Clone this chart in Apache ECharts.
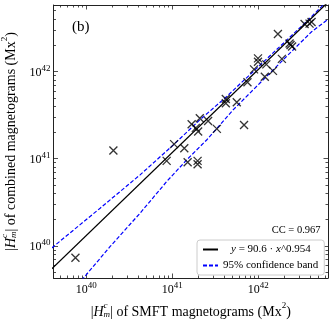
<!DOCTYPE html>
<html>
<head>
<meta charset="utf-8">
<script src="https://cdn.jsdelivr.net/npm/echarts@6/dist/echarts.min.js"></script>
<style>
  html, body { margin: 0; padding: 0; background: #fff; }
  #chart { width: 333px; height: 325px; }
</style>
</head>
<body>
<div id="chart"></div>
<script>
// |H_m^c| (Mx^2): SMFT (x) against combined (y)
var smft = [7.5e39, 2.07e40, 8.61e40, 1.05e41, 1.38e41, 1.51e41, 1.97e41, 1.97e41, 1.68e41,
  2.09e41, 2.0e41, 1.88e41, 2.61e41, 3.3e41, 4.19e41, 4.19e41, 5.62e41, 6.83e41, 7.48e41,
  8.92e41, 9.92e41, 9.92e41, 1.19e42, 1.24e42, 1.48e42, 1.69e42, 1.88e42, 2.31e42, 2.47e42,
  2.37e42, 3.45e42, 3.94e42, 4.16e42];
var combined = [7.3e39, 1.24e41, 9.44e40, 1.47e41, 1.32e41, 9.12e40, 8.65e40, 9.44e40, 2.49e41,
  2.91e41, 2.05e41, 2.26e41, 2.71e41, 2.2e41, 4.85e41, 4.33e41, 4.45e41, 2.44e41, 7.54e41,
  1.06e42, 1.42e42, 1.3e42, 8.74e41, 1.21e42, 1.02e42, 2.7e42, 1.4e42, 2.1e42, 1.94e42,
  2.02e42, 3.52e42, 3.56e42, 3.71e42];

// fitted power law (y = 90.6 x^0.954), end points
var fitX = [3.98e39, 6.46e42];
var fitY = [5.43e39, 6.27e42];

// 95% confidence band
var upperX = [3.98e39, 1.45e40, 4.23e40, 1.03e41, 2.09e41, 4.27e41, 8.69e41, 1.77e42, 3.61e42, 6.46e42];
var upperY = [9.44e39, 2.70e40, 6.52e40, 1.44e41, 2.79e41, 5.15e41, 9.98e41, 1.93e42, 3.73e42, 6.61e42];
var lowerX = [7.94e39, 9.31e39, 1.90e40, 4.23e40, 8.61e40, 1.47e41, 2.51e41, 5.09e41, 1.04e42, 2.11e42, 4.16e42, 6.46e42];
var lowerY = [3.55e39, 4.27e39, 9.82e39, 2.37e40, 5.46e40, 9.68e40, 1.64e41, 3.63e41, 7.35e41, 1.48e42, 2.87e42, 3.98e42];

var majorExp = [40, 41, 42];
var fitName = 'y = 90.6 · x^0.954';
var bandName = '95% confidence band';
var ccText = 'CC = 0.967';
var panelText = '(b)';

var FONT = 'Liberation Serif';
var X_MIN = 39.62, X_MAX = 42.81;
var Y_MIN = 39.63, Y_MAX = 42.765;

function lg(v) { return Math.log10(v); }
function pairs(xs, ys) {
  return xs.map(function (x, i) { return [lg(x), lg(ys[i])]; });
}

// minor tick positions 2..9 x 10^n (log space)
var minorExp = [];
for (var n = 39; n <= 42; n++) {
  for (var k = 2; k <= 9; k++) {
    var v = n + Math.log10(k);
    if (v > X_MIN - 0.05 && v < X_MAX + 0.05) minorExp.push(v);
  }
}

var labelRich = {
  b: { fontFamily: FONT, fontSize: 12, lineHeight: 15, color: '#000', verticalAlign: 'bottom' },
  s: { fontFamily: FONT, fontSize: 9, lineHeight: 9, color: '#000', verticalAlign: 'top' }
};
function expLabel(v) { return '{b|10}{s|' + Math.round(v) + '}'; }

// c sits over m: negative right padding cancels its advance
var nameRich = {
  t: { fontFamily: FONT, fontSize: 14, lineHeight: 18, color: '#000', verticalAlign: 'bottom' },
  i: { fontFamily: FONT, fontSize: 14, lineHeight: 18, color: '#000', fontStyle: 'italic', verticalAlign: 'bottom' },
  c: { fontFamily: FONT, fontSize: 9, lineHeight: 9, color: '#000', fontStyle: 'italic', verticalAlign: 'top', padding: [0, -4, 0, 0] },
  m: { fontFamily: FONT, fontSize: 9, lineHeight: 9, color: '#000', fontStyle: 'italic', verticalAlign: 'bottom' },
  p: { fontFamily: FONT, fontSize: 9, lineHeight: 9, color: '#000', verticalAlign: 'top' }
};
function axisName(mid) {
  return '{t||}{i|H}{c|c}{m|m}{t|| of ' + mid + ' (Mx}{p|2}{t|)}';
}

function makeAxis(dim, pos, ticks, len, main) {
  var ax = {
    type: 'value',
    position: pos,
    min: dim === 'x' ? X_MIN : Y_MIN,
    max: dim === 'x' ? X_MAX : Y_MAX,
    axisLine: { show: main, onZero: false, lineStyle: { color: '#222', width: 1 } },
    axisTick: { show: true, inside: true, length: len, customValues: ticks, lineStyle: { color: '#222', width: 0.8 } },
    axisLabel: { show: false },
    splitLine: { show: false }
  };
  return ax;
}

var xBottom = makeAxis('x', 'bottom', majorExp, 4.5, true);
xBottom.axisLabel = { show: true, customValues: majorExp, formatter: expLabel, margin: 3, rich: labelRich };
xBottom.name = axisName('SMFT magnetograms');
xBottom.nameLocation = 'middle';
xBottom.nameGap = 15;
xBottom.nameTextStyle = { fontFamily: FONT, fontSize: 14, lineHeight: 18, color: '#000', rich: nameRich, verticalAlign: 'top' };

var yLeft = makeAxis('y', 'left', majorExp, 4.5, true);
yLeft.axisLabel = { show: true, customValues: majorExp, formatter: expLabel, margin: 3, rich: labelRich };
yLeft.name = axisName('combined magnetograms');
yLeft.nameLocation = 'middle';
yLeft.nameGap = 27;
yLeft.nameTextStyle = { fontFamily: FONT, fontSize: 14, lineHeight: 18, color: '#000', rich: nameRich };

var chart = echarts.init(document.getElementById('chart'));
var option = {
  animation: false,
  backgroundColor: '#fff',
  grid: { left: 53.5, top: 5, width: 274.5, height: 273, outerBoundsMode: 'none', containLabel: false },
  xAxis: [
    xBottom,
    makeAxis('x', 'bottom', minorExp, 2.5, false),
    makeAxis('x', 'top', majorExp, 4.5, true),
    makeAxis('x', 'top', minorExp, 2.5, false)
  ],
  yAxis: [
    yLeft,
    makeAxis('y', 'left', minorExp, 2.5, false),
    makeAxis('y', 'right', majorExp, 4.5, true),
    makeAxis('y', 'right', minorExp, 2.5, false)
  ],
  legend: {
    data: [fitName, bandName],
    orient: 'vertical',
    left: 197,
    top: 240,
    padding: [3, 6, 3, 5],
    itemGap: 3,
    itemWidth: 15,
    itemHeight: 10,
    backgroundColor: '#fff',
    borderColor: '#ccc',
    borderWidth: 1,
    borderRadius: 3,
    selectedMode: false,
    itemStyle: { color: 'rgba(0,0,0,0)', borderWidth: 0, opacity: 0 },
    textStyle: {
      fontFamily: FONT, fontSize: 11, lineHeight: 13, color: '#000',
      rich: {
        iy: { fontFamily: FONT, fontSize: 11, fontStyle: 'italic', color: '#000', padding: [0, 0, 0, 8] },
        i: { fontFamily: FONT, fontSize: 11, fontStyle: 'italic', color: '#000' },
        t: { fontFamily: FONT, fontSize: 11, color: '#000' }
      }
    },
    formatter: function (name) {
      if (name === fitName) return '{iy|y}{t| = 90.6 · }{i|x}{t|^0.954}';
      return name;
    }
  },
  graphic: [
    { type: 'text', left: 72, top: 20, style: { text: panelText, font: '15px "Liberation Serif"', fill: '#000' } },
    { type: 'text', x: 320.5, y: 230, style: { text: ccText, font: '10.5px "Liberation Serif"', fill: '#000', align: 'right', verticalAlign: 'middle' } }
  ],
  series: [
    {
      name: bandName,
      type: 'line',
      data: pairs(upperX, upperY),
      symbol: 'none',
      clip: true,
      lineStyle: { color: '#0000ff', width: 1.2, type: [4, 2] },
      itemStyle: { color: 'rgba(0,0,0,0)' },
      z: 2
    },
    {
      name: bandName,
      type: 'line',
      data: pairs(lowerX, lowerY),
      symbol: 'none',
      clip: true,
      lineStyle: { color: '#0000ff', width: 1.2, type: [4, 2] },
      itemStyle: { color: 'rgba(0,0,0,0)' },
      z: 2
    },
    {
      name: fitName,
      type: 'line',
      data: pairs(fitX, fitY),
      symbol: 'none',
      clip: true,
      lineStyle: { color: '#000', width: 1.3 },
      itemStyle: { color: 'rgba(0,0,0,0)' },
      z: 3
    },
    {
      name: 'data',
      type: 'scatter',
      data: pairs(smft, combined),
      symbol: 'path://M0,0L10,10M0,10L10,0',
      symbolSize: 8,
      itemStyle: { color: 'rgba(0,0,0,0)', borderColor: '#000', borderWidth: 1.3 },
      silent: true,
      z: 4
    }
  ]
};
chart.setOption(option);
window.addEventListener('resize', function () { chart.resize(); });
</script>
</body>
</html>
